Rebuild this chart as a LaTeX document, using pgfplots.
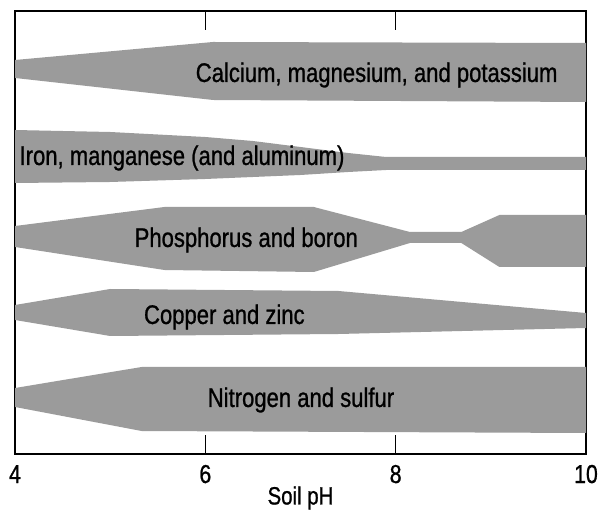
\documentclass[border=0pt]{standalone}
\usepackage{pgfplots}
\pgfplotsset{compat=1.18}
\usepackage{fontspec}
\setmainfont{Liberation Sans}[FakeStretch=0.82, FakeBold=0.9]
\definecolor{bandgray}{RGB}{155,155,155}
\begin{document}
\begin{tikzpicture}
\begin{axis}[
  name=ax,
  scale only axis,
  width=571bp, height=443bp,
  xmin=4, xmax=10, ymin=0, ymax=443,
  axis line style={line width=1.5bp},
  xtick={4,6,8,10},
  ytick=\empty,
  tick pos=both,
  xtick align=inside,
  major tick length=19bp,
  every tick/.style={black, line width=1.1bp},
  /pgf/number format/assume math mode=true,
  xticklabel style={font=\fontsize{26}{30}\selectfont, anchor=base, yshift=-29bp},
  xlabel={Soil pH},
  xlabel style={font=\fontsize{25}{29}\selectfont, at={(axis description cs:0.5,0)}, anchor=center, yshift=-44bp},
  clip=false,
]
% Calcium, magnesium, and potassium
\addplot[fill=bandgray, draw=none] coordinates {
  (4,394) (6.08,412) (10,411) (10,352) (6.08,354) (4,376)} -- cycle;
% Iron, manganese (and aluminum)
\addplot[fill=bandgray, draw=none] coordinates {
  (4,324) (5,322) (6,317) (6.5,313) (7,307) (7.5,301) (7.9,297) (10,297)
  (10,284) (7.9,284) (7.5,282) (7,279) (6.5,277) (6,275) (5,272) (4,271)} -- cycle;
% Phosphorus and boron
\addplot[fill=bandgray, draw=none] coordinates {
  (4,228) (5.57,247) (7.14,247) (8.15,222) (8.69,222) (9.09,239) (10,239)
  (10,187) (9.09,187) (8.69,211) (8.15,211) (7.14,182) (5.57,184) (4,207)} -- cycle;
% Copper and zinc
\addplot[fill=bandgray, draw=none] coordinates {
  (4,149) (5,165) (7.4,163) (10,141)
  (10,126) (7.4,120) (5,118) (4,134)} -- cycle;
% Nitrogen and sulfur
\addplot[fill=bandgray, draw=none] coordinates {
  (4,66) (5.33,87) (10,87) (10,21) (5.33,23) (4,47)} -- cycle;

\begin{scope}[every node/.style={font=\fontsize{27}{30}\selectfont, inner sep=0pt}]
\node at (axis cs:7.80,379) {Calcium, magnesium, and potassium};
\node at (axis cs:5.755,296) {Iron, manganese (and aluminum)};
\node at (axis cs:6.43,214) {Phosphorus and boron};
\node at (axis cs:6.20,137) {Copper and zinc};
\node at (axis cs:7.005,54) {Nitrogen and sulfur};
\end{scope}
\end{axis}
\pgfresetboundingbox
\path[use as bounding box] ([shift={(-15bp,-58bp)}]ax.south west) rectangle ([shift={(16bp,11bp)}]ax.north east);
\end{tikzpicture}
\end{document}
